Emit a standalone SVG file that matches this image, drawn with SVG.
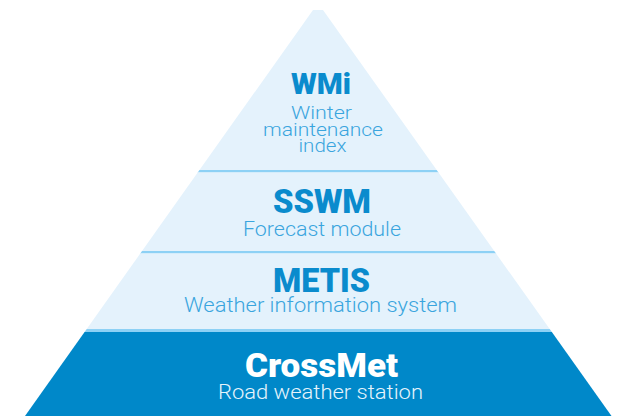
<svg xmlns="http://www.w3.org/2000/svg" width="643" height="416" viewBox="0 0 643 416">
  <defs>
    <clipPath id="tri">
      <polygon points="313,10 323,10 611.5,416 25,416"/>
    </clipPath>
    <style>
      .light { fill: #e4f2fc; }
      .dark { fill: #0088c9; }
      .sep { fill: #8dd1f5; }
      .title { font-family: Roboto, "Liberation Sans", sans-serif; font-weight: 900; text-anchor: middle; fill: #0a8bcd; }
      .sub { font-family: Roboto, "Liberation Sans", sans-serif; font-weight: 300; text-anchor: middle; fill: #3aa5de; }
      .titleW { fill: #ffffff; }
      .subW { fill: #e6f4fc; }
    </style>
  </defs>
  <rect width="643" height="416" fill="#ffffff"/>
  <g clip-path="url(#tri)">
    <g id="layer-wmi">
      <rect class="light" x="0" y="0" width="643" height="170"/>
    </g>
    <rect class="sep" x="0" y="170" width="643" height="2.5"/>
    <g id="layer-sswm">
      <rect class="light" x="0" y="172.5" width="643" height="78.5"/>
    </g>
    <rect class="sep" x="0" y="251" width="643" height="2.5"/>
    <g id="layer-metis">
      <rect class="light" x="0" y="253.5" width="643" height="75.5"/>
    </g>
    <rect class="sep" x="0" y="329" width="643" height="3"/>
    <g id="layer-crossmet-bg">
      <rect class="dark" x="0" y="332" width="643" height="84"/>
    </g>
  </g>
  <g id="node-wmi">
    <text class="title" x="321" y="94" font-size="29" textLength="60" lengthAdjust="spacingAndGlyphs">WMi</text>
    <text class="sub" x="321.5" y="119" font-size="18" textLength="61" lengthAdjust="spacingAndGlyphs">Winter</text>
    <text class="sub" x="323" y="135.5" font-size="18" textLength="120" lengthAdjust="spacingAndGlyphs">maintenance</text>
    <text class="sub" x="322.5" y="152" font-size="18" textLength="48" lengthAdjust="spacingAndGlyphs">index</text>
  </g>
  <g id="node-sswm">
    <text class="title" x="322" y="213" font-size="34" textLength="98" lengthAdjust="spacingAndGlyphs">SSWM</text>
    <text class="sub" x="322" y="236" font-size="20.5" textLength="158" lengthAdjust="spacingAndGlyphs">Forecast module</text>
  </g>
  <g id="node-metis">
    <text class="title" x="321.5" y="292" font-size="34" textLength="97" lengthAdjust="spacingAndGlyphs">METIS</text>
    <text class="sub" x="320.5" y="312" font-size="20.5" textLength="273" lengthAdjust="spacingAndGlyphs">Weather information system</text>
  </g>
  <g id="node-crossmet">
    <text class="title titleW" x="321.5" y="377" font-size="34" textLength="153" lengthAdjust="spacingAndGlyphs">CrossMet</text>
    <text class="sub subW" x="320.5" y="399" font-size="20.5" textLength="205" lengthAdjust="spacingAndGlyphs">Road weather station</text>
  </g>
  <g id="connectors"></g>
</svg>
